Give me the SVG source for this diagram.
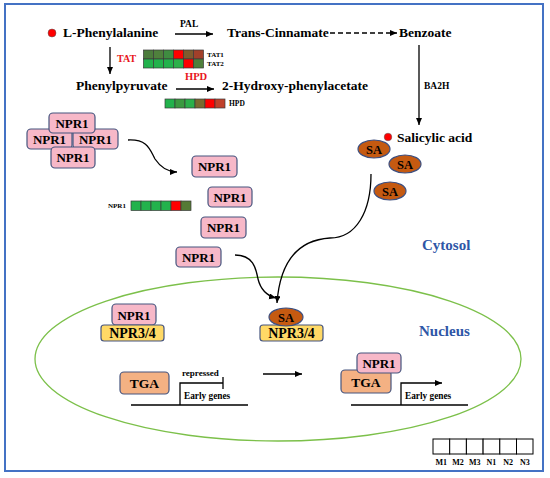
<svg xmlns="http://www.w3.org/2000/svg" width="550" height="478" viewBox="0 0 550 478">
<defs>
<marker id="ah" markerUnits="userSpaceOnUse" markerWidth="8" markerHeight="7" refX="7" refY="3" orient="auto">
<path d="M0,0 L7,3 L0,6 z" fill="#000"/>
</marker>
<style>
text{font-family:"Liberation Serif","Times New Roman",serif;font-weight:bold;fill:#000}
.m{font-size:13.5px}
.s{font-size:9.5px}
.r{fill:#e8141a}
.t{font-size:7px}
.reg{font-size:15px;fill:#2e56a6}
.c{text-anchor:middle}
.npr{fill:#f7b8c8;stroke:#46557f;stroke-width:1.2}
.y{fill:#ffd966;stroke:#46557f;stroke-width:1.2}
.tga{fill:#f4b183;stroke:#46557f;stroke-width:1.2}
.sa{fill:#c55a11;stroke:#3d4f80;stroke-width:1.2}
.cell{stroke:#3a3a3a;stroke-width:0.7}
.ln{stroke:#000;stroke-width:1.3;fill:none}
.arr{stroke:#000;stroke-width:1.3;fill:none;marker-end:url(#ah)}
.box{fill:#fff;stroke:#000;stroke-width:1}
</style>
</defs>
<rect x="5" y="4" width="538" height="467" fill="#fff" stroke="#4472c4" stroke-width="2"/>
<ellipse cx="278" cy="359" rx="243" ry="82" fill="none" stroke="#7cc04a" stroke-width="1.3"/>

<g id="connectors">
<line class="arr" x1="175" y1="34" x2="213" y2="34"/>
<line class="arr" x1="330" y1="33" x2="397" y2="33" stroke-dasharray="5,3"/>
<line class="arr" x1="419" y1="45" x2="419" y2="125"/>
<line class="arr" x1="110" y1="47" x2="110" y2="74"/>
<line class="arr" x1="176" y1="89" x2="214" y2="89"/>
<path class="arr" d="M128,140 C148,139 150,150 155,159 C161,168 168,172 177,172"/>
<path class="arr" d="M235,255 C253,255 256,268 258,279 C261,291 268,296 276,298"/>
<path class="arr" d="M371,174 C371,212 356,238 330,238 C298,240 280,262 277,303"/>
<line class="arr" x1="263" y1="374" x2="302" y2="374"/>
<path class="ln" d="M131,405 H248 M180,405 V383 H223 M223,377 V389"/>
<path class="ln" d="M351,405 H468"/>
<path class="arr" d="M401,405 V383 H442"/>
</g>

<g id="l-phenylalanine">
<circle cx="52" cy="33" r="4" fill="#f00" stroke="#555" stroke-width="0.5"/>
<text class="m" x="63" y="37">L-Phenylalanine</text>
</g>
<g id="pal"><text x="180" y="27" style="font-size:9.5px">PAL</text></g>
<g id="trans-cinnamate"><text class="m" x="227" y="37">Trans-Cinnamate</text></g>
<g id="benzoate"><text class="m" x="399" y="37">Benzoate</text></g>
<g id="ba2h"><text x="424" y="89" style="font-size:9.5px">BA2H</text></g>
<g id="tat"><text class="r" x="117" y="62" style="font-size:10px">TAT</text></g>
<g id="tat-heatmap">
<rect class="cell" x="143.5" y="50" width="10" height="9" fill="#4c7c3c"/>
<rect class="cell" x="153.5" y="50" width="10" height="9" fill="#4f803c"/>
<rect class="cell" x="163.5" y="50" width="10" height="9" fill="#3f8c40"/>
<rect class="cell" x="173.5" y="50" width="10" height="9" fill="#ff0000"/>
<rect class="cell" x="183.5" y="50" width="10" height="9" fill="#7e5c2e"/>
<rect class="cell" x="193.5" y="50" width="10" height="9" fill="#a2402a"/>
<rect class="cell" x="143.5" y="59" width="10" height="9" fill="#22b24c"/>
<rect class="cell" x="153.5" y="59" width="10" height="9" fill="#22b24c"/>
<rect class="cell" x="163.5" y="59" width="10" height="9" fill="#22b24c"/>
<rect class="cell" x="173.5" y="59" width="10" height="9" fill="#2cb04a"/>
<rect class="cell" x="183.5" y="59" width="10" height="9" fill="#ff0000"/>
<rect class="cell" x="193.5" y="59" width="10" height="9" fill="#4f7f3b"/>
<text class="t" x="207" y="57">TAT1</text>
<text class="t" x="207" y="66">TAT2</text>
</g>
<g id="phenylpyruvate"><text class="m" x="76" y="90">Phenylpyruvate</text></g>
<g id="hpd"><text class="r" x="185" y="80" style="font-size:10.5px">HPD</text></g>
<g id="hydroxy-phenylacetate"><text class="m" x="222" y="90">2-Hydroxy-phenylacetate</text></g>
<g id="hpd-heatmap">
<rect class="cell" x="165" y="99" width="10" height="9" fill="#22b24c"/>
<rect class="cell" x="175" y="99" width="10" height="9" fill="#3a9a40"/>
<rect class="cell" x="185" y="99" width="10" height="9" fill="#2bb04a"/>
<rect class="cell" x="195" y="99" width="10" height="9" fill="#7a6a2e"/>
<rect class="cell" x="205" y="99" width="10" height="9" fill="#ff0000"/>
<rect class="cell" x="215" y="99" width="10" height="9" fill="#c0402a"/>
<text x="229" y="106" style="font-size:7.5px">HPD</text>
</g>

<g id="npr1-cluster">
<rect class="npr" x="27" y="129" width="45" height="20" rx="4"/>
<text class="m c" x="49.5" y="144" style="font-size:13px">NPR1</text>
<rect class="npr" x="73" y="129" width="45" height="20" rx="4"/>
<text class="m c" x="95.5" y="144" style="font-size:13px">NPR1</text>
<rect class="npr" x="49" y="113" width="46" height="20" rx="4"/>
<text class="m c" x="72" y="128" style="font-size:13px">NPR1</text>
<rect class="npr" x="51" y="147" width="44" height="21" rx="4"/>
<text class="m c" x="73" y="162" style="font-size:13px">NPR1</text>
</g>
<g id="npr1-a"><rect class="npr" x="192" y="156" width="45" height="21" rx="4"/><text class="m c" x="214.5" y="171" style="font-size:13px">NPR1</text></g>
<g id="npr1-b"><rect class="npr" x="208" y="187" width="44" height="20" rx="4"/><text class="m c" x="230" y="202" style="font-size:13px">NPR1</text></g>
<g id="npr1-c"><rect class="npr" x="201" y="217" width="45" height="21" rx="4"/><text class="m c" x="223.5" y="232" style="font-size:13px">NPR1</text></g>
<g id="npr1-d"><rect class="npr" x="176" y="247" width="45" height="20" rx="4"/><text class="m c" x="198.5" y="262" style="font-size:13px">NPR1</text></g>
<g id="npr1-heatmap">
<text class="t" x="108" y="208">NPR1</text>
<rect class="cell" x="131" y="201" width="10" height="9.5" fill="#22b24c"/>
<rect class="cell" x="141" y="201" width="10" height="9.5" fill="#22b24c"/>
<rect class="cell" x="151" y="201" width="10" height="9.5" fill="#22b24c"/>
<rect class="cell" x="161" y="201" width="10" height="9.5" fill="#22b24c"/>
<rect class="cell" x="171" y="201" width="10" height="9.5" fill="#ff0000"/>
<rect class="cell" x="181" y="201" width="10" height="9.5" fill="#557a35"/>
</g>

<g id="salicylic-acid">
<circle cx="388" cy="137" r="3.8" fill="#f00" stroke="#555" stroke-width="0.5"/>
<text class="m" x="397" y="142">Salicylic acid</text>
</g>
<g id="sa-1"><ellipse class="sa" cx="374" cy="149" rx="16" ry="9"/><text class="c" x="374" y="153.5" style="font-size:12.5px">SA</text></g>
<g id="sa-2"><ellipse class="sa" cx="405" cy="164" rx="16" ry="9"/><text class="c" x="405" y="168.5" style="font-size:12.5px">SA</text></g>
<g id="sa-3"><ellipse class="sa" cx="390" cy="191" rx="16" ry="9"/><text class="c" x="390" y="195.5" style="font-size:12.5px">SA</text></g>
<g id="cytosol"><text class="reg" x="422" y="250">Cytosol</text></g>
<g id="nucleus"><text class="reg" x="419" y="336">Nucleus</text></g>

<g id="npr1-npr34">
<rect class="npr" x="112" y="304" width="44" height="21" rx="4"/>
<text class="m c" x="134" y="319.5" style="font-size:13px">NPR1</text>
<rect class="y" x="101" y="325" width="63" height="16" rx="3"/>
<text class="c" x="132.5" y="338" style="font-size:14px">NPR3/4</text>
</g>
<g id="sa-npr34">
<rect class="y" x="260" y="325" width="63" height="16" rx="3"/>
<text class="c" x="291.5" y="338" style="font-size:14px">NPR3/4</text>
<ellipse class="sa" cx="286" cy="317" rx="17" ry="9"/>
<text class="c" x="286" y="321.5" style="font-size:12.5px">SA</text>
</g>
<g id="tga-repressed">
<rect class="tga" x="120" y="372" width="49" height="22" rx="4"/>
<text class="c" x="144.5" y="388" style="font-size:13.5px">TGA</text>
<text x="182" y="376" style="font-size:9px">repressed</text>
<text x="184" y="399" style="font-size:9.3px">Early genes</text>
</g>
<g id="tga-active">
<rect class="tga" x="341" y="370" width="50" height="23" rx="4"/>
<text class="c" x="366" y="386.5" style="font-size:13.5px">TGA</text>
<rect class="npr" x="357" y="353" width="44" height="20" rx="4"/>
<text class="m c" x="379" y="368" style="font-size:13px">NPR1</text>
<text x="405" y="399" style="font-size:9.3px">Early genes</text>
</g>
<g id="legend">
<rect class="box" x="433" y="439" width="16.7" height="15"/>
<rect class="box" x="449.7" y="439" width="16.7" height="15"/>
<rect class="box" x="466.4" y="439" width="16.7" height="15"/>
<rect class="box" x="483.1" y="439" width="16.7" height="15"/>
<rect class="box" x="499.8" y="439" width="16.7" height="15"/>
<rect class="box" x="516.5" y="439" width="16.5" height="15"/>
<text class="c" x="441.3" y="465" style="font-size:8px">M1</text>
<text class="c" x="458" y="465" style="font-size:8px">M2</text>
<text class="c" x="474.7" y="465" style="font-size:8px">M3</text>
<text class="c" x="491.4" y="465" style="font-size:8px">N1</text>
<text class="c" x="508.1" y="465" style="font-size:8px">N2</text>
<text class="c" x="524.8" y="465" style="font-size:8px">N3</text>
</g>
</svg>
